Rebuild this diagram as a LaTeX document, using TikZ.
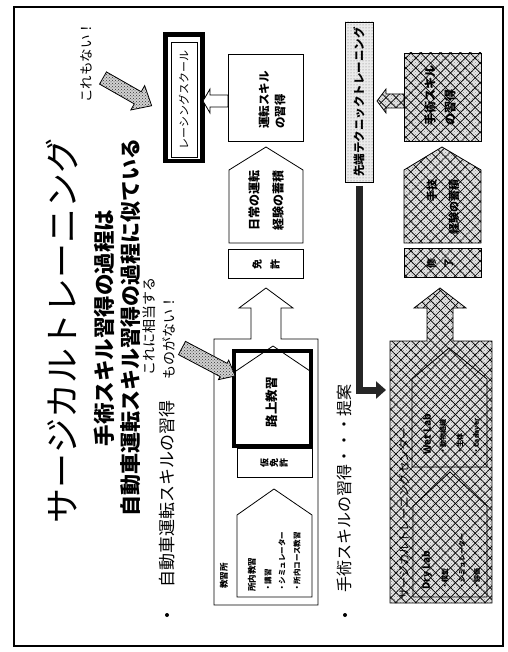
\documentclass[tikz,border=0pt]{standalone}
\usepackage{fontspec}
\setmainfont{Noto Sans CJK JP}
\usetikzlibrary{patterns,patterns.meta,arrows.meta}
\newcommand{\sz}[2]{\fontsize{#1}{#2}\selectfont}
\tikzset{
  rot/.style={rotate=90, inner sep=0pt},
  lbl/.style={rot, anchor=west},
  thin/.style={draw=black, line width=0.8pt},
  hatch/.style={thin,
    preaction={fill=black!10},
    preaction={pattern=crosshatch dots, pattern color=black!45},
    preaction={pattern={Lines[angle=45,distance=7pt,line width=0.7pt]}},
    preaction={pattern={Lines[angle=-45,distance=7pt,line width=0.7pt]}}},
  stipple/.style={thin, preaction={fill=black!18}, preaction={pattern=crosshatch dots, pattern color=black!80}},
  lightstip/.style={thin, preaction={fill=black!8}, preaction={pattern=dots, pattern color=black!55}},
  bul/.style={circle, fill=black, inner sep=0pt, minimum size=4pt},
}
\begin{document}
\begin{tikzpicture}[x=1pt,y=-1pt]
\useasboundingbox (0,0) rectangle (507,652);
\fill[white] (0,0) rectangle (507,652);
% frame
\draw[line width=1.5pt] (14,7) rectangle (503,646);

% ---------- titles ----------
\node[rot, font=\sz{35}{40}] (title) at (62,331) {サージカルトレーニング};
\node[rot, font=\bfseries\sz{21.5}{24}] (sub1) at (104,328) {手術スキル習得の過程は};
\node[rot, font=\bfseries\sz{21}{24}] (sub2) at (131,327) {自動車運転スキル習得の過程に似ている};
\node[lbl, font=\sz{13.5}{15}] (koremo) at (86,103) {これもない！};
\node[lbl, font=\sz{14}{16}] (soutou) at (149,376) {これに相当する};
\node[lbl, font=\sz{14}{16}] (monoga) at (169,380) {ものがない！};
\node[lbl, font=\sz{17}{20}] (b1) at (167,588) {自動車運転スキルの習得};
\node[bul] (dot1) at (167,615) {};
\node[lbl, font=\sz{16}{19}] (b2) at (344,593) {手術スキルの習得・・・提案};
\node[bul] (dot2) at (345,615) {};

% ---------- driving column ----------
% racing school
\draw[line width=4.5pt] (165.5,34.5) rectangle (202.5,161);
\draw[thin] (171,42) rectangle (197,157);
\node[rot, font=\sz{11}{12}] (racing) at (184,100) {レーシングスクール};
% outline arrow to racing school
\draw[thin, fill=white] (228,95) -- (210,95) -- (210,89) -- (203,101) -- (210,113) -- (210,107) -- (228,107) -- cycle;
% skill box
\draw[thin] (228,54) rectangle (303,141);
\node[rot, font=\bfseries\sz{11.5}{16}, align=left] (unten) at (272,100) {運転スキル\\の習得};
% experience pentagon
\draw[thin] (229,243) -- (229,170) -- (266,147) -- (303,170) -- (303,243) -- cycle;
\node[rot, font=\bfseries\sz{12}{24}, align=left] (nichijou) at (266,200) {日常の運転\\経験の蓄積};
% licence box
\draw[thin] (228,249) rectangle (303,278);
\node[rot, font=\bfseries\sz{10}{18}, align=center] (menkyo) at (266,264) {免\\許};
% driving school container with up arrow
\draw[thin, fill=white] (214,605) -- (214,339) -- (251,339) -- (251,308) -- (239,308) -- (266,288)
  -- (293,308) -- (281,308) -- (281,339) -- (318,339) -- (318,605) -- cycle;
\node[lbl, font=\bfseries\sz{8.5}{10}] (kyoushujo) at (224,589) {教習所};
% road lesson (thick box)
\draw[line width=4pt] (234,351) rectangle (311,446);
\draw[thin] (236,371) -- (273,346) -- (310,371);
\node[rot, font=\bfseries\sz{12.5}{14}] (rojou) at (272,402) {路上教習};
% provisional licence
\draw[thin] (237,448) rectangle (312,477);
\node[rot, font=\bfseries\sz{9}{9.6}, align=center] (karimen) at (274,463) {仮\\免\\許};
% in-school pentagon
\draw[thin] (237,597) -- (237,515) -- (274,489) -- (312,515) -- (312,597) -- cycle;
\node[lbl, font=\bfseries\sz{8.5}{10}] (shonai) at (252,592) {所内教習};
\node[lbl, font=\bfseries\sz{7.5}{9}] (i1) at (268,592) {・講習};
\node[lbl, font=\bfseries\sz{7.5}{9}] (i2) at (282,592) {・シミュレーター};
\node[lbl, font=\bfseries\sz{7.5}{9}] (i3) at (297,592) {・所内コース教習};

% stipple arrow 1 (これもない！)
\begin{scope}[shift={(103,78)}, rotate=-29.7]
\draw[stipple] (0,-7) -- (40,-7) -- (40,-14) -- (56,0) -- (40,14) -- (40,7) -- (0,7) -- cycle;
\end{scope}
% stipple arrow 2 (これに相当するものがない！)
\begin{scope}[shift={(182,348)}, rotate=-27.8]
\draw[stipple] (0,-7.5) -- (47,-7.5) -- (47,-11) -- (60,0) -- (47,11) -- (47,7.5) -- (0,7.5) -- cycle;
\end{scope}

% ---------- surgical column ----------
\draw[lightstip] (345,22) rectangle (373,182);
\node[rot, font=\bfseries\sz{11.5}{13}] (sentan) at (359,102) {先端テクニックトレーニング};
% hatched small arrow
\draw[hatch] (404,94) -- (386,94) -- (386,89) -- (377,101) -- (386,113) -- (386,108) -- (404,108) -- cycle;
% surgical skill box
\draw[hatch] (404,53) rectangle (481,141);
\node[rot, font=\bfseries\sz{12}{20}, align=left] (shujutsu) at (440,96) {手術スキル\\の習得};
% experience pentagon
\draw[hatch] (404,243) -- (404,170) -- (442,147) -- (481,170) -- (481,243) -- cycle;
\node[rot, font=\bfseries\sz{11}{22}, align=right] (shugi) at (443,207) {手技\\経験の蓄積};
% completion box
\draw[hatch] (404,248) rectangle (481,277);
\node[rot, font=\bfseries\sz{10}{17}, align=center] (shuryou) at (440,263) {修\\了};
% training centre container with up arrow
\draw[hatch] (390,603) -- (390,341) -- (427,341) -- (427,308) -- (414,308) -- (440,288)
  -- (466,308) -- (453,308) -- (453,341) -- (492,341) -- (492,603) -- cycle;
\draw[thin] (412,467) -- (412,379) -- (449,348) -- (487,379) -- (487,467) -- cycle;
\draw[thin] (413,597) -- (413,506) -- (450,472) -- (487,506) -- (487,597) -- cycle;
\node[lbl, font=\sz{11.5}{13}] (centre) at (404,600) {サージカルトレーニングセンター};
\node[lbl, font=\bfseries\sz{10}{12}] (wet) at (427,455) {Wet Lab};
\node[lbl, font=\bfseries\sz{7}{8}] (w1) at (443,455) {・動物組織};
\node[lbl, font=\bfseries\sz{7}{8}] (w2) at (460,455) {・生体};
\node[lbl, font=\bfseries\sz{7}{8}] (w3) at (476,455) {・Cadaver};
\node[lbl, font=\bfseries\sz{10}{12}] (dry) at (427,590) {Dry Lab};
\node[lbl, font=\bfseries\sz{7}{8}] (d1) at (445,590) {・模型};
\node[lbl, font=\bfseries\sz{7}{8}] (d2) at (462,590) {・シミュレーター};
\node[lbl, font=\bfseries\sz{7}{8}] (d3) at (477,590) {・評価};

% dark L connector
\coordinate (barstart) at (359,186);
\coordinate (barend) at (386,390);
\draw[line width=7pt, draw=black!85, line join=miter, -{Triangle[length=10pt,width=17pt]}] (barstart) |- (barend);
\end{tikzpicture}
\end{document}
